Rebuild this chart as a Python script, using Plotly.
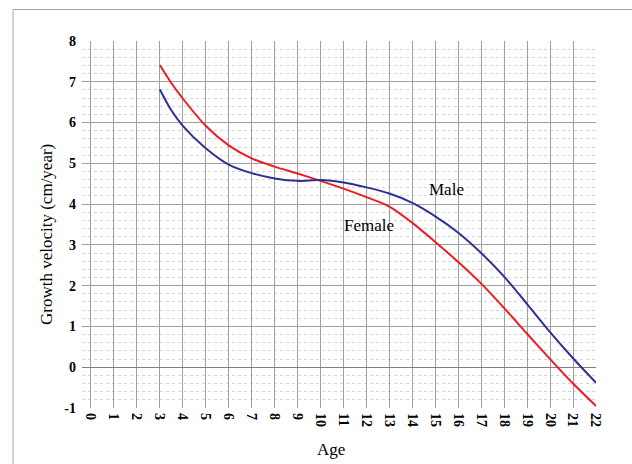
import plotly.graph_objects as go

# Data
age = [3, 3.5, 4, 5, 6, 7, 8, 9, 10, 11, 12, 13, 14, 15, 16, 17, 18, 19, 20, 21, 22]
female = [7.41, 6.97, 6.59, 5.92, 5.44, 5.12, 4.92, 4.75, 4.57, 4.38, 4.17, 3.94,
          3.54, 3.07, 2.58, 2.05, 1.45, 0.82, 0.20, -0.40, -0.95]
male = [6.81, 6.30, 5.92, 5.37, 4.97, 4.76, 4.63, 4.57, 4.59, 4.53, 4.41, 4.26,
        4.03, 3.70, 3.30, 2.80, 2.22, 1.55, 0.86, 0.22, -0.38]
x_ticks = list(range(0, 23))
y_ticks = list(range(-1, 9))
y_tick_text = ["%d" % v for v in y_ticks]
x_tick_text = ["%d" % v for v in x_ticks]

W, H = 632, 464
L, R, T, B = 82, 36, 41, 56
pw, ph = W - L - R, H - T - B

def px(x):
    return (x - L) / pw

def py(y):
    return (H - B - y) / ph

FONT = "Liberation Serif"

fig = go.Figure()
fig.add_trace(go.Scatter(x=age, y=female, mode="lines", line=dict(color="#ed1c24", width=2, shape="spline", smoothing=0.8),
                         name="Female", showlegend=False, hoverinfo="skip"))
fig.add_trace(go.Scatter(x=age, y=male, mode="lines", line=dict(color="#2e3192", width=2, shape="spline", smoothing=0.8),
                         name="Male", showlegend=False, hoverinfo="skip"))

fig.update_layout(
    width=W, height=H,
    margin=dict(l=L, r=R, t=T, b=B, pad=0),
    paper_bgcolor="white", plot_bgcolor="white",
    font=dict(family=FONT, color="black"),
    xaxis=dict(range=[-0.39, 22], tickvals=x_ticks, ticktext=x_tick_text,
               tickangle=90, showgrid=True, gridcolor="#a0a0a0", gridwidth=1,
               zeroline=False, showline=False, ticks="", ticklabelstandoff=4,
               tickfont=dict(family=FONT, size=14, color="black", weight="bold")),
    yaxis=dict(range=[-1, 8], tickvals=y_ticks, ticktext=y_tick_text,
               showgrid=True, gridcolor="#a0a0a0", gridwidth=1,
               zeroline=True, zerolinecolor="#808080", zerolinewidth=1,
               showline=False, ticks="", ticklabelstandoff=5,
               tickfont=dict(family=FONT, size=14, color="black", weight="bold"),
               minor=dict(dtick=0.2, showgrid=True, gridcolor="#d4d4d4", griddash="dot", gridwidth=1)),
    shapes=[dict(type="rect", xref="paper", yref="paper",
                 x0=px(13), x1=px(700), y0=py(560), y1=py(9.5),
                 line=dict(color="#a6a6a6", width=1), fillcolor="rgba(0,0,0,0)", layer="below")],
    annotations=[
        dict(text="Age", xref="paper", yref="paper", x=px(331), y=py(450), showarrow=False,
             font=dict(family=FONT, size=17, color="black"), xanchor="center", yanchor="middle"),
        dict(text="Growth velocity (cm/year)", xref="paper", yref="paper", x=px(46), y=py(235),
             showarrow=False, textangle=-90,
             font=dict(family=FONT, size=17, color="black"), xanchor="center", yanchor="middle"),
        dict(text="Male", x=15.5, y=(H - B - 189) / ph * 9 - 1, xref="x", yref="y", showarrow=False,
             font=dict(family=FONT, size=17, color="black"), xanchor="center", yanchor="middle"),
        dict(text="Female", x=12.1, y=(H - B - 225) / ph * 9 - 1, xref="x", yref="y", showarrow=False,
             font=dict(family=FONT, size=17, color="black"), xanchor="center", yanchor="middle"),
    ],
)

fig.write_html("out.html")
